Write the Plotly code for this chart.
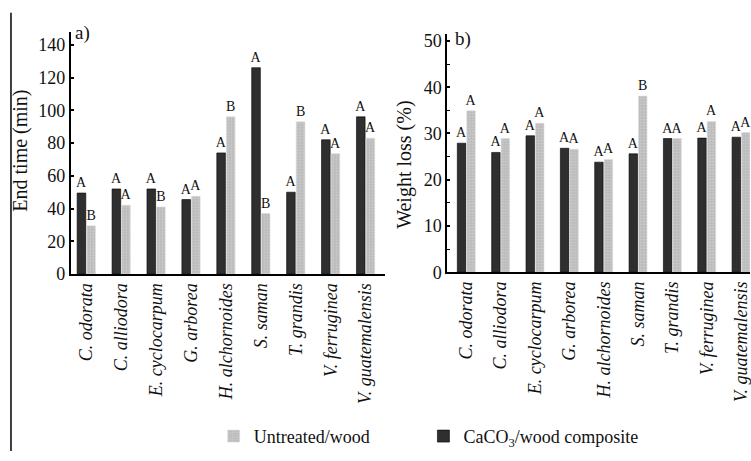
import plotly.graph_objects as go

species = ["C. odorata", "C. alliodora", "E. cyclocarpum", "G. arborea",
           "H. alchornoides", "S. saman", "T. grandis", "V. ferruginea",
           "V. guatemalensis"]

# Panel a) End time (min)
end_caco3 = [49.5, 52, 52, 45.5, 74, 126, 50, 82, 96]
end_untreated = [29.5, 42, 41, 47.5, 96, 37, 93, 73.5, 83]
end_caco3_lbl = ["A"] * 9
end_untreated_lbl = ["B", "A", "B", "A", "B", "B", "B", "A", "A"]

# Panel b) Weight loss (%)
wl_caco3 = [27.9, 25.9, 29.5, 26.8, 23.8, 25.6, 28.9, 29.0, 29.2]
wl_untreated = [34.9, 28.9, 32.2, 26.6, 24.4, 38.1, 28.9, 32.6, 30.2]
wl_caco3_lbl = ["A"] * 9
wl_untreated_lbl = ["A", "A", "A", "A", "A", "B", "A", "A", "A"]

legend_names = ["CaCO<sub>3</sub>/wood composite", "Untreated/wood"]
y_titles = ["End time (min)", "Weight loss (%)"]
panel_tags = ["a)", "b)"]

SERIF = "Liberation Serif, Times New Roman, serif"
DARK = "#2f2f2f"
LIGHT_BG = "#b9b9b9"
LIGHT_FG = "#e4e4e4"

W, H = 751, 461

fig = go.Figure()

def add_pair(xa, ya, dark_vals, light_vals, dark_lbl, light_lbl, show):
    fig.add_trace(go.Bar(
        x=species, y=dark_vals, name=legend_names[0], legendgroup="c",
        legend="legend2",
        showlegend=show, xaxis=xa, yaxis=ya,
        marker=dict(color=DARK, line=dict(color="#000000", width=0.6)),
        text=dark_lbl, textposition="outside", cliponaxis=False,
        constraintext="none",
        textfont=dict(family=SERIF, size=14, color="#111"),
    ))
    fig.add_trace(go.Bar(
        x=species, y=light_vals, name=legend_names[1], legendgroup="u",
        legend="legend",
        showlegend=show, xaxis=xa, yaxis=ya,
        marker=dict(color=LIGHT_BG, line=dict(color="#dcdcdc", width=0.6),
                    pattern=dict(shape=".", bgcolor=LIGHT_BG, fgcolor=LIGHT_FG,
                                 size=3, solidity=0.35)),
        text=light_lbl, textposition="outside", cliponaxis=False,
        constraintext="none",
        textfont=dict(family=SERIF, size=14, color="#111"),
    ))

add_pair("x", "y", end_caco3, end_untreated, end_caco3_lbl, end_untreated_lbl, True)
add_pair("x2", "y2", wl_caco3, wl_untreated, wl_caco3_lbl, wl_untreated_lbl, False)

def px_x(p):
    return p / W

def px_y(p):
    return 1 - p / H

xcommon = dict(
    type="category", showline=True, linecolor="#000", linewidth=2,
    ticks="", tickangle=-90, showgrid=False, zeroline=False,
    tickfont=dict(family=SERIF, size=18, color="#111", style="italic"),
    fixedrange=True,
)
ycommon = dict(
    showline=True, linecolor="#000", linewidth=2, showgrid=False, zeroline=False,
    tickfont=dict(family=SERIF, size=18, color="#111"),
    ticks="inside", ticklen=3, tickwidth=1.5, tickcolor="#000",
    fixedrange=True,
)

legend_common = dict(orientation="h", yanchor="middle", y=px_y(446), xanchor="left",
                     font=dict(family=SERIF, size=18, color="#111"),
                     itemwidth=30, bgcolor="rgba(0,0,0,0)")

fig.update_layout(
    width=W, height=H,
    margin=dict(l=0, r=0, t=0, b=0),
    paper_bgcolor="white", plot_bgcolor="white",
    barmode="group", bargap=0.45, bargroupgap=0.1,
    xaxis=dict(domain=[px_x(71), px_x(386)], range=[-0.44, 8.57], anchor="y", **xcommon),
    yaxis=dict(domain=[px_y(279), px_y(29.5)], range=[0, 148], anchor="x",
               tickvals=[0, 20, 40, 60, 80, 100, 120, 140], **ycommon),
    xaxis2=dict(domain=[px_x(448), 1.0], range=[-0.55, 8.26], anchor="y2", **xcommon),
    yaxis2=dict(domain=[px_y(277), px_y(32)], range=[0, 51.5], anchor="x2",
                tickvals=[0, 10, 20, 30, 40, 50],
                minor=dict(dtick=5, ticks="inside", ticklen=3, tickwidth=1.2, tickcolor="#000"),
                **ycommon),
    legend=dict(x=px_x(214), **legend_common),
    legend2=dict(x=px_x(424), **legend_common),
    showlegend=True,
)

# Y-axis titles
fig.add_annotation(text=y_titles[0], xref="paper", yref="paper", x=px_x(21), y=px_y(152),
                   textangle=-90, showarrow=False, xanchor="center", yanchor="middle",
                   font=dict(family=SERIF, size=20, color="#111"))
fig.add_annotation(text=y_titles[1], xref="paper", yref="paper", x=px_x(405), y=px_y(166),
                   textangle=-90, showarrow=False, xanchor="center", yanchor="middle",
                   font=dict(family=SERIF, size=20, color="#111"))

# Panel tags
fig.add_annotation(text=panel_tags[0], xref="paper", yref="paper", x=px_x(73), y=px_y(31),
                   xanchor="left", yanchor="middle", showarrow=False,
                   font=dict(family=SERIF, size=19, color="#111"))
fig.add_annotation(text=panel_tags[1], xref="paper", yref="paper", x=px_x(454), y=px_y(37),
                   xanchor="left", yanchor="middle", showarrow=False,
                   font=dict(family=SERIF, size=19, color="#111"))

fig.add_shape(type="line", xref="paper", yref="paper",
              x0=px_x(11), x1=px_x(11), y0=0, y1=px_y(10),
              line=dict(color="#000", width=1.5))

fig.write_html("out.html")
